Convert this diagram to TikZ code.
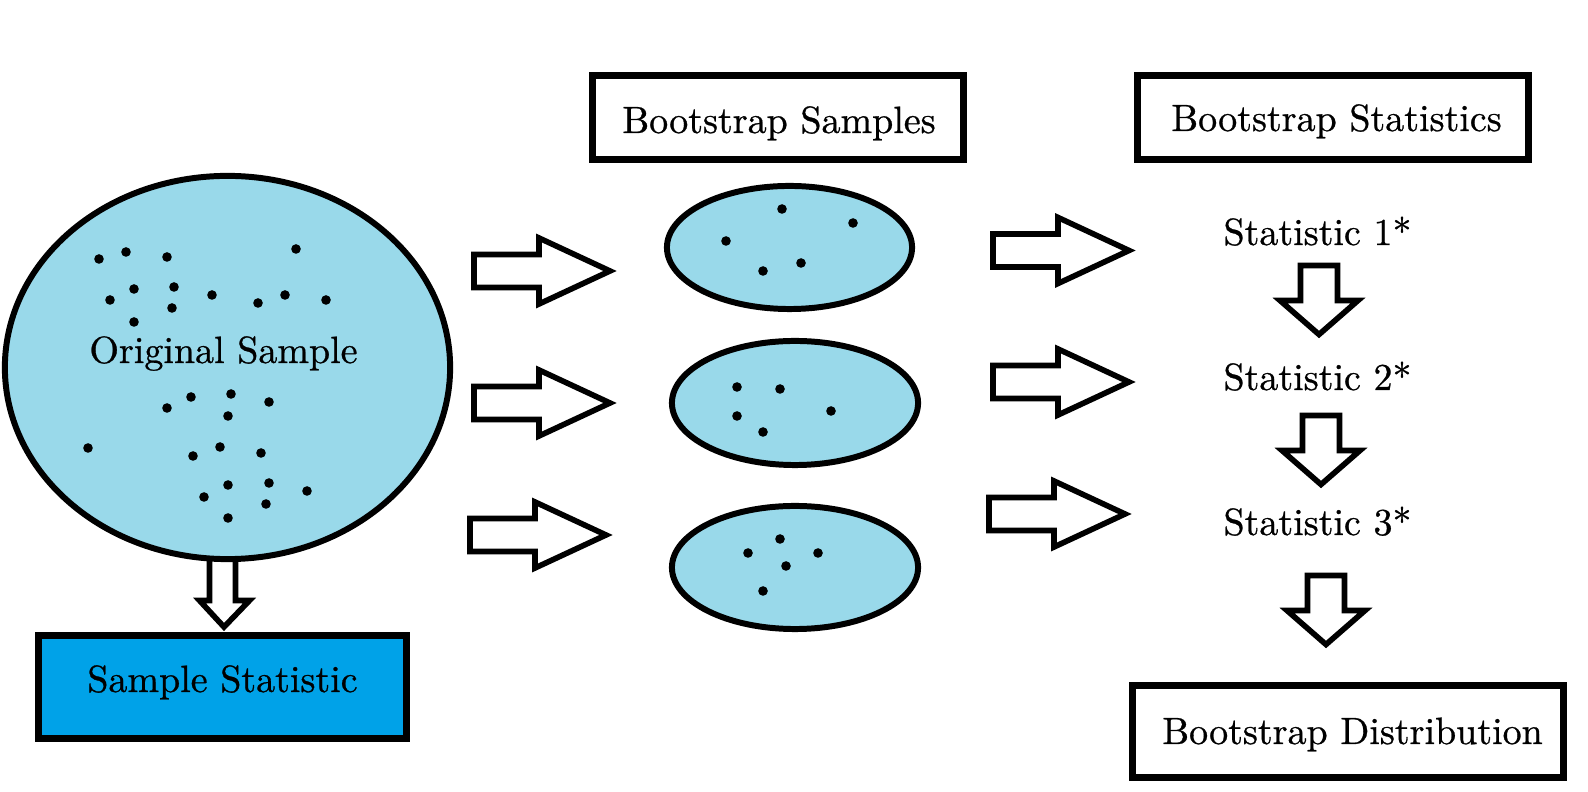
\documentclass[tikz,border=0pt]{standalone}
\usepackage{fontspec}
\newfontface\lblfont{lmroman10-regular.otf}[FakeBold=0.7]
\usetikzlibrary{shapes.geometric}
\definecolor{lightblue}{RGB}{153,217,234}
\definecolor{statblue}{RGB}{0,162,232}
\tikzset{
  sample/.style={ellipse, draw=black, line width=1.7pt, fill=lightblue, inner sep=0pt},
  frame/.style={rectangle, draw=black, line width=2pt, inner sep=0pt},
  lbl/.style={font=\lblfont\fontsize{10.8}{13}\selectfont, text=black, inner sep=0pt, anchor=base},
  blk/.style={draw=black, fill=white, line width=1.6pt, line join=miter},
  dot/.style={fill=black},
  rarrow/.pic={\path[blk] (-139,-16.5) -- (-74,-16.5) -- (-74,-33) -- (-3,0) -- (-74,33) -- (-74,16.5) -- (-139,16.5) -- cycle;},
  darrow/.pic={\path[blk] (-18.5,-72.5) -- (18.5,-72.5) -- (18.5,-37.5) -- (39,-37.5) -- (0,-3.5) -- (-39,-37.5) -- (-18.5,-37.5) -- cycle;}
}
\begin{document}
\begin{tikzpicture}[x=0.01cm,y=-0.01cm]
\useasboundingbox (0,0) rectangle (1588,792);
\fill[white] (0,0) rectangle (1588,792);

% arrow from original sample to sample statistic
\path[blk] (209.5,545) -- (235.5,545) -- (235.5,600.5) -- (249.5,600.5) -- (224,627) -- (199.5,600.5) -- (209.5,600.5) -- cycle;

% original sample
\node[sample, minimum width=4.45cm, minimum height=3.83cm] (orig) at (227.5,367.5) {};
\foreach \p in {(99,259),(126,252),(167,257),(296,249),(110,300),(134,289),(174,287),(172,308),(212,295),(258,303),(285,295),(326,300),(134,322),(167,408),(191,397),(231,394),(269,402),(228,416),(88,448),(193,456),(220,447),(261,453),(228,485),(269,483),(307,491),(204,497),(266,504),(228,518)}
  \fill[dot] \p circle[radius=0.048cm];
\node[lbl] (origt) at (223.5,363) {Original Sample};

% sample statistic
\node[frame, fill=statblue, minimum width=3.68cm, minimum height=1.03cm] (sstat) at (222.5,687) {};
\node[lbl] (sstatt) at (222.5,692) {Sample Statistic};

% right arrows, column 1
\pic at (613,271) {rarrow};
\pic at (613,403) {rarrow};
\pic at (609,535) {rarrow};

% bootstrap samples
\node[frame, minimum width=3.71cm, minimum height=0.84cm] (bsamp) at (778,117.5) {};
\node[lbl] (bsampt) at (779,133) {Bootstrap Samples};

\node[sample, minimum width=2.45cm, minimum height=1.23cm] (e1) at (789.5,247.5) {};
\node[sample, minimum width=2.46cm, minimum height=1.24cm] (e2) at (795,403) {};
\node[sample, minimum width=2.46cm, minimum height=1.23cm] (e3) at (795,567.5) {};
\foreach \p in {(726,241),(782,209),(853,223),(763,271),(801,263),
                (737,387),(780,389),(737,416),(763,432),(831,411),
                (780,539),(748,553),(818,553),(786,566),(763,591)}
  \fill[dot] \p circle[radius=0.048cm];

% right arrows, column 2
\pic at (1132,250.5) {rarrow};
\pic at (1132,382) {rarrow};
\pic at (1128,514) {rarrow};

% bootstrap statistics
\node[frame, minimum width=3.91cm, minimum height=0.84cm] (bstat) at (1333,117.5) {};
\node[lbl] (bstatt) at (1336.5,131) {Bootstrap Statistics};

\node[lbl] (s1) at (1317.5,245) {Statistic 1*};
\node[lbl] (s2) at (1317.5,390) {Statistic 2*};
\node[lbl] (s3) at (1317.5,535) {Statistic 3*};

\pic at (1319,338) {darrow};
\pic at (1321,488) {darrow};
\pic at (1326,648) {darrow};

% bootstrap distribution
\node[frame, minimum width=4.31cm, minimum height=0.92cm] (bdist) at (1348,731.5) {};
\node[lbl] (bdistt) at (1352.5,744) {Bootstrap Distribution};
\end{tikzpicture}
\end{document}
